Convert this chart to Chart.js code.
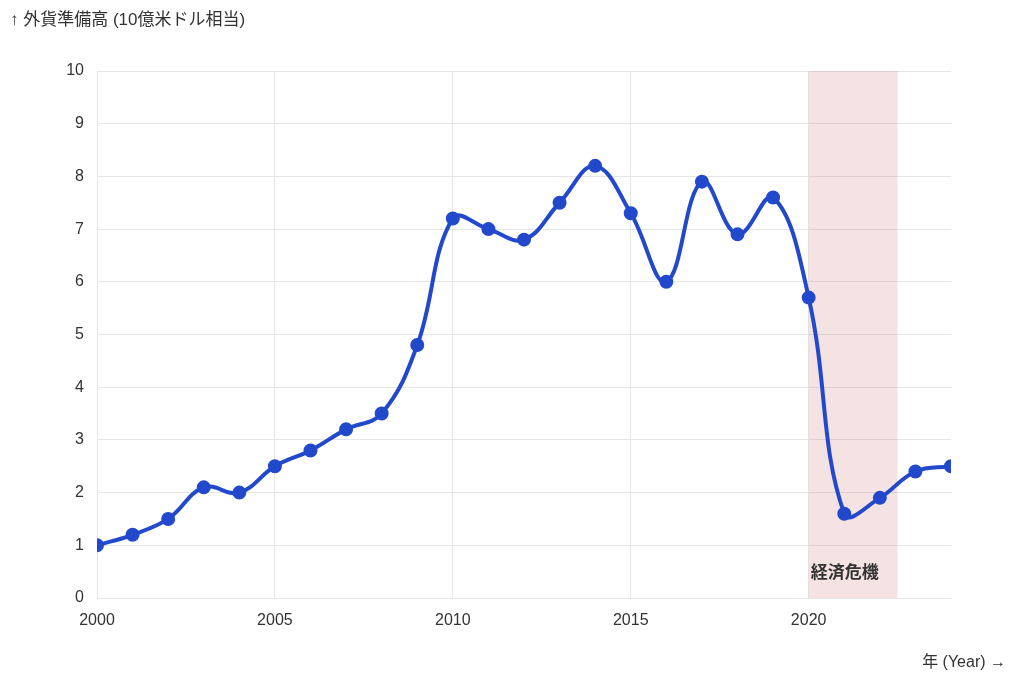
<!DOCTYPE html>
<html>
<head>
<meta charset="utf-8">
<script src="https://cdn.jsdelivr.net/npm/chart.js@4"></script>
<style>
  html, body { margin: 0; padding: 0; background: #fff; }
  #wrap { width: 1024px; height: 686px; }
</style>
</head>
<body>
<div id="wrap"><canvas id="c" width="1024" height="686"></canvas></div>
<script>
const years = [2000, 2001, 2002, 2003, 2004, 2005, 2006, 2007, 2008, 2009, 2010, 2011,
  2012, 2013, 2014, 2015, 2016, 2017, 2018, 2019, 2020, 2021, 2022, 2023, 2024];
const reserves = [1.0, 1.2, 1.5, 2.1, 2.0, 2.5, 2.8, 3.2, 3.5, 4.8, 7.2, 7.0,
  6.8, 7.5, 8.2, 7.3, 6.0, 7.9, 6.9, 7.6, 5.7, 1.6, 1.9, 2.4, 2.5];
const crisisRange = [2020, 2022.5];
const crisisLabel = "経済危機";
const yTitle = "↑ 外貨準備高 (10億米ドル相当)";
const xTitle = "年 (Year) →";

const FONT = "'Liberation Sans', 'Noto Sans CJK JP', sans-serif";
Chart.defaults.font.family = FONT;
Chart.defaults.color = "#333";

const decorations = {
  id: "decorations",
  beforeDatasetsDraw(chart) {
    const { ctx, chartArea, scales } = chart;
    const x0 = scales.x.getPixelForValue(crisisRange[0]);
    const x1 = scales.x.getPixelForValue(crisisRange[1]);
    ctx.save();
    ctx.fillStyle = "rgba(190, 60, 60, 0.15)";
    ctx.fillRect(x0, chartArea.top, x1 - x0, chartArea.bottom - chartArea.top);
    ctx.fillStyle = "#333";
    ctx.font = "bold 17px " + FONT;
    ctx.textBaseline = "alphabetic";
    ctx.textAlign = "left";
    ctx.fillText(crisisLabel, x0 + 2, chartArea.bottom - 20);
    ctx.restore();
  },
  afterDraw(chart) {
    const { ctx } = chart;
    ctx.save();
    ctx.fillStyle = "#333";
    ctx.font = "17px " + FONT;
    ctx.textBaseline = "middle";
    ctx.textAlign = "left";
    ctx.fillText(yTitle, 10, 20);
    ctx.font = "16px " + FONT;
    ctx.textAlign = "right";
    ctx.fillText(xTitle, 1006, 663);
    ctx.restore();
  }
};

new Chart(document.getElementById("c").getContext("2d"), {
  type: "line",
  data: {
    datasets: [{
      data: years.map((y, i) => ({ x: y, y: reserves[i] })),
      borderColor: "#2249cc",
      backgroundColor: "#2249cc",
      borderWidth: 4,
      pointRadius: 5,
      pointHoverRadius: 5,
      tension: 0.4,
      fill: false
    }]
  },
  options: {
    responsive: false,
    animation: false,
    layout: { padding: { top: 71, right: 73, bottom: 58, left: 40 } },
    plugins: { legend: { display: false }, tooltip: { enabled: false } },
    scales: {
      x: {
        type: "linear",
        min: 2000,
        max: 2024,
        afterFit(s) { s.height = 30; },
        grid: { color: "#e6e6e6", lineWidth: 1, drawTicks: false },
        border: { display: false },
        ticks: {
          stepSize: 5,
          includeBounds: false,
          padding: 13,
          font: { size: 16 },
          callback: (v) => String(v)
        }
      },
      y: {
        min: 0,
        max: 10,
        afterFit(s) { s.width = 57; },
        grid: { color: "#e6e6e6", lineWidth: 1, drawTicks: false },
        border: { display: false },
        ticks: { stepSize: 1, padding: 13, font: { size: 16 } }
      }
    }
  },
  plugins: [decorations]
});
</script>
</body>
</html>
